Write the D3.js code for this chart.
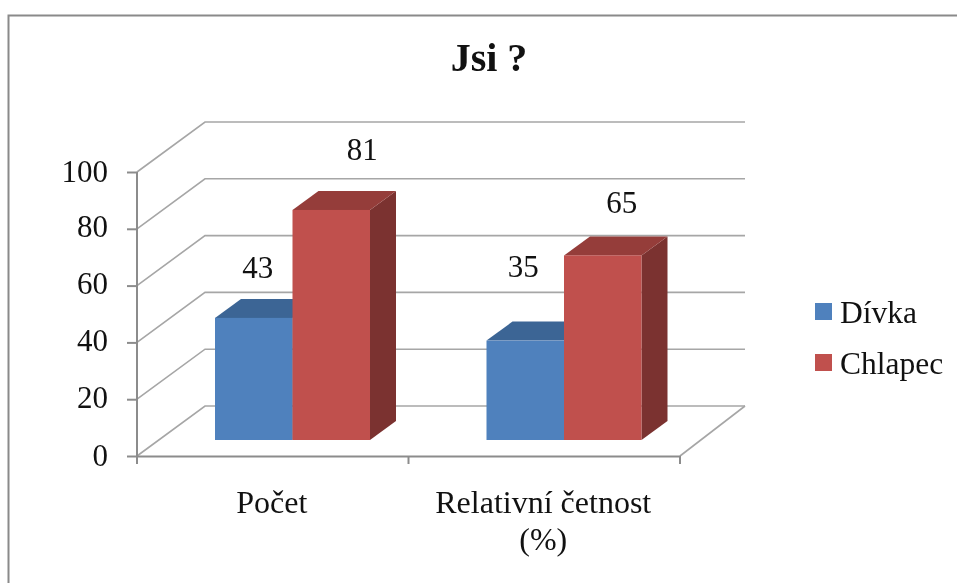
<!DOCTYPE html>
<html>
<head>
<meta charset="utf-8">
<title>Jsi ?</title>
<script src="https://cdnjs.cloudflare.com/ajax/libs/d3/7.8.5/d3.min.js"></script>
<style>
html, body { margin: 0; padding: 0; background: #fff; }
svg { display: block; font-family: "Liberation Serif", serif; filter: blur(0.5px); }
</style>
</head>
<body>
<svg id="chart" width="957" height="583"></svg>
<script>
var categories = ["Počet", "Relativní četnost"];
var categoryLines = [["Počet"], ["Relativní četnost", "(%)"]];
var seriesNames = ["Dívka", "Chlapec"];
var divka = [43, 35];
var chlapec = [81, 65];
var yTicks = [0, 20, 40, 60, 80, 100];

var colors = ["#4f81bd", "#c0504d"];
var topColors = ["#3c6595", "#953d3a"];
var sideColors = ["#2f5078", "#7b3230"];
var gridColor = "#a6a6a6";
var axisColor = "#8c8c8c";

var svg = d3.select("#chart");

// perspektiva: zadni stena je posunuta vuci prednimu okraji podlahy
var depthX = 68, depthY = -50;
var barDepthX = 26, barDepthY = -19;
var barBase = 16; // o kolik je spodek sloupcu nad prednim okrajem

var x = d3.scaleBand().domain(categories).range([137, 680]);
var y = d3.scaleLinear().domain([0, 100]).range([456, 172]);
var xSeries = d3.scaleBand().domain(d3.range(seriesNames.length))
  .range([0, 155]);
var barLeft = 78;

// ramecek
svg.append("path")
  .attr("d", "M8.5,583V15.5H957")
  .attr("fill", "none")
  .attr("stroke", "#8a8a8a")
  .attr("stroke-width", 2);

// mrizka (zadni stena + bocni stena)
var grid = svg.append("g").attr("fill", "none").attr("stroke", gridColor).attr("stroke-width", 1.6);
yTicks.forEach(function (t) {
  grid.append("path").attr("d", d3.line()([
    [x.range()[0], y(t)],
    [x.range()[0] + depthX, y(t) + depthY],
    [x.range()[1] + depthX - 3, y(t) + depthY]
  ]));
});
// prava hrana podlahy
grid.append("line")
  .attr("x1", x.range()[1]).attr("y1", y(0))
  .attr("x2", x.range()[1] + depthX - 3).attr("y2", y(0) + depthY);

// osy
var yAxis = d3.axisLeft(y).tickValues(yTicks).tickSize(11).tickPadding(18);
var gy = svg.append("g").attr("transform", "translate(" + x.range()[0] + ",0)").call(yAxis);
gy.select(".domain").remove();
gy.selectAll(".tick line").attr("stroke", axisColor).attr("stroke-width", 2).attr("x1", 0).attr("x2", -10);
gy.selectAll(".tick text").attr("font-size", 31).attr("font-family", "Liberation Serif").attr("fill", "#111")
  .attr("transform", function (d) { return d > 0 && d < 100 ? "translate(0,-2)" : null; });
svg.append("line")
  .attr("x1", x.range()[0]).attr("x2", x.range()[0])
  .attr("y1", y(100)).attr("y2", y(0) + 7)
  .attr("stroke", axisColor).attr("stroke-width", 2);

var xAxis = d3.axisBottom(x).tickSize(0).tickFormat("");
var gx = svg.append("g").attr("transform", "translate(0," + y(0) + ")").call(xAxis);
gx.select(".domain").attr("stroke", axisColor).attr("stroke-width", 2);
x.domain().concat(["end"]).forEach(function (c, i) {
  var px = i < categories.length ? x(c) : x.range()[1];
  gx.append("line").attr("x1", px).attr("x2", px).attr("y1", 0).attr("y2", 8)
    .attr("stroke", axisColor).attr("stroke-width", 2);
});

// sloupce
var heightOf = function (v) { return y(0) - y(v); };
[divka, chlapec].forEach(function (values, s) {
  var g = svg.append("g");
  values.forEach(function (v, i) {
    var x0 = x(categories[i]) + barLeft + xSeries(s);
    var x1 = x0 + xSeries.bandwidth();
    var yb = y(0) - barBase;
    var yt = yb - heightOf(v);
    var line = d3.line();
    g.append("path").attr("fill", sideColors[s]).attr("d", line([
      [x1, yb], [x1 + barDepthX, yb + barDepthY], [x1 + barDepthX, yt + barDepthY], [x1, yt]
    ]) + "Z");
    g.append("path").attr("fill", topColors[s]).attr("d", line([
      [x0, yt], [x0 + barDepthX, yt + barDepthY], [x1 + barDepthX, yt + barDepthY], [x1, yt]
    ]) + "Z");
    g.append("rect").attr("x", x0).attr("y", yt)
      .attr("width", xSeries.bandwidth()).attr("height", yb - yt)
      .attr("fill", colors[s]);
  });
});
// popisky az nad vsemi sloupci, rucne posunute jako v puvodnim grafu
var labelShiftX = [[4, -2], [31, 19]];
var labelLift = [[40, 64], [50, 42]];
[divka, chlapec].forEach(function (values, s) {
  values.forEach(function (v, i) {
    var x0 = x(categories[i]) + barLeft + xSeries(s);
    var yt = y(0) - barBase - heightOf(v);
    svg.append("text")
      .attr("x", x0 + xSeries.bandwidth() / 2 + labelShiftX[s][i])
      .attr("y", yt - labelLift[s][i])
      .attr("text-anchor", "middle")
      .attr("font-size", 31)
      .attr("fill", "#111")
      .text(v);
  });
});

// nazvy kategorii
categories.forEach(function (c, i) {
  var t = svg.append("text")
    .attr("text-anchor", "middle")
    .attr("font-size", 32)
    .attr("fill", "#111");
  categoryLines[i].forEach(function (l, j) {
    t.append("tspan")
      .attr("x", x(c) + x.bandwidth() / 2 - 1)
      .attr("y", 513 + j * 37)
      .text(l);
  });
});

// nadpis
svg.append("text")
  .attr("x", 489).attr("y", 71)
  .attr("text-anchor", "middle")
  .attr("font-size", 40)
  .attr("font-weight", "bold")
  .attr("fill", "#111")
  .text("Jsi ?");

// legenda
seriesNames.forEach(function (n, i) {
  var ly = 303 + i * 51;
  svg.append("rect").attr("x", 815).attr("y", ly).attr("width", 17).attr("height", 17).attr("fill", colors[i]);
  svg.append("text").attr("x", 840).attr("y", ly + 20).attr("font-size", 31.5).attr("fill", "#111").text(n);
});
</script>
</body>
</html>
